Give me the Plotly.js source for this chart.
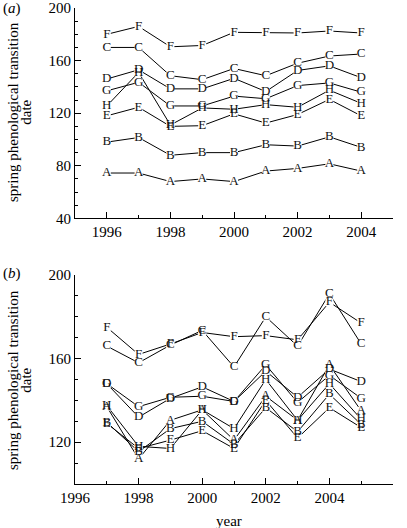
<!DOCTYPE html>
<html>
<head>
<meta charset="utf-8">
<script src="https://cdn.plot.ly/plotly-3.0.1.min.js"></script>
<style>html,body{margin:0;padding:0;background:#fff;}#chart{width:407px;height:528px;}</style>
</head>
<body>
<div id="chart"></div>
<script>
// Panel (a)
var yearsA = [1996, 1997, 1998, 1999, 2000, 2001, 2002, 2003, 2004];
var a_A = [74.5, 74.5, 68, 70, 68, 76, 78, 81.5, 76];
var a_B = [98, 101.5, 88, 90, 90, 96, 95, 102, 94];
var a_C = [170, 170, 148.5, 145.5, 154, 148.5, 158, 163.5, 165];
var a_D = [146, 153, 138.5, 138.5, 146.5, 136.5, 152.5, 156, 147];
var a_E = [118, 124.5, 110, 110.5, 119.5, 112.5, 119, 130.5, 118];
var a_F = [180, 186, 170.5, 171.5, 181.5, 181.5, 181, 182.5, 181];
var a_G = [137, 143.5, 125.5, 125.5, 133, 131, 141, 143, 136];
var a_H = [125.5, 151, 111, 124, 123, 126.5, 124.5, 137.5, 127.5];

// Panel (b)
var yearsB = [1997, 1998, 1999, 2000, 2001, 2002, 2003, 2004, 2005];
var b_A = [137, 112, 130.5, 135.5, 121, 142, 130.5, 157, 135];
var b_B = [129.5, 115.5, 126.5, 130, 119, 136.5, 125, 143, 128.5];
var b_C = [166, 158, 166.5, 173.5, 156, 180, 166, 191, 167];
var b_D = [148, 132, 141, 146.5, 139.5, 154, 141.5, 155, 149];
var b_E = [129, 117, 121, 125.5, 117, 140, 122, 136.5, 127];
var b_F = [175, 162, 167, 172.5, 170.5, 171, 169, 187, 177];
var b_G = [148, 137, 141.5, 142, 139.5, 157, 139, 152, 141];
var b_H = [137.5, 118, 117, 135.5, 126.5, 150, 130.5, 148, 131];

var seriesNames = ['A', 'B', 'C', 'D', 'E', 'F', 'G', 'H'];
var panelA = [a_A, a_B, a_C, a_D, a_E, a_F, a_G, a_H];
var panelB = [b_A, b_B, b_C, b_D, b_E, b_F, b_G, b_H];

var FONT = 'Liberation Serif';
var traces = [];
function addPanel(xs, list, xa, ya) {
  list.forEach(function (ys, i) {
    traces.push({x: xs, y: ys, xaxis: xa, yaxis: ya, type: 'scatter', mode: 'lines',
      line: {color: 'black', width: 1}, hoverinfo: 'skip', showlegend: false});
  });
  list.forEach(function (ys, i) {
    traces.push({x: xs, y: ys, xaxis: xa, yaxis: ya, type: 'scatter', mode: 'markers',
      marker: {symbol: 'square', size: 8, color: 'white', line: {width: 0}}, hoverinfo: 'skip', showlegend: false});
  });
  list.forEach(function (ys, i) {
    traces.push({x: xs, y: ys, xaxis: xa, yaxis: ya, type: 'scatter', mode: 'text',
      text: xs.map(function () { return seriesNames[i]; }), textposition: 'middle center',
      textfont: {family: FONT, size: 13, color: '#111'}, hoverinfo: 'skip', showlegend: false});
  });
}
addPanel(yearsA, panelA, 'x', 'y');
addPanel(yearsB, panelB, 'x2', 'y2');

function xax(range, anchor) {
  return {range: range, anchor: anchor, tick0: 1996, dtick: 2, ticks: 'inside', ticklen: 6, tickwidth: 1,
    tickcolor: 'black', showline: true, linecolor: 'black', linewidth: 1, showgrid: false, zeroline: false,
    tickfont: {family: FONT, size: 15, color: 'black'},
    minor: {dtick: 1, ticks: 'inside', ticklen: 3, tickcolor: 'black', showgrid: false}};
}
function yax(range, domain, anchor) {
  return {range: range, domain: domain, anchor: anchor, tick0: 0, dtick: 40, ticks: 'inside', ticklen: 6, tickwidth: 1,
    tickcolor: 'black', showline: true, linecolor: 'black', linewidth: 1, showgrid: false, zeroline: false,
    tickfont: {family: FONT, size: 15, color: 'black'},
    minor: {dtick: 10, ticks: 'inside', ticklen: 3, tickcolor: 'black', showgrid: false}};
}

var layout = {
  width: 407, height: 528,
  margin: {l: 75, r: 14, t: 8, b: 44},
  paper_bgcolor: 'white', plot_bgcolor: 'white',
  font: {family: FONT, color: 'black'},
  showlegend: false,
  xaxis: xax([1995, 2005], 'y'),
  yaxis: yax([40, 200], [0.558, 1], 'x'),
  xaxis2: xax([1996, 2006], 'y2'),
  yaxis2: yax([100, 200], [0, 0.439], 'x2'),
  annotations: [
    {text: 'spring phenological transition', xref: 'paper', yref: 'paper', x: -0.195, y: 0.7815,
      textangle: -90, showarrow: false, xanchor: 'center', yanchor: 'middle', font: {family: FONT, size: 15}},
    {text: 'date', xref: 'paper', yref: 'paper', x: -0.155, y: 0.7815,
      textangle: -90, showarrow: false, xanchor: 'center', yanchor: 'middle', font: {family: FONT, size: 15}},
    {text: 'spring phenological transition', xref: 'paper', yref: 'paper', x: -0.195, y: 0.2185,
      textangle: -90, showarrow: false, xanchor: 'center', yanchor: 'middle', font: {family: FONT, size: 15}},
    {text: 'date', xref: 'paper', yref: 'paper', x: -0.155, y: 0.2185,
      textangle: -90, showarrow: false, xanchor: 'center', yanchor: 'middle', font: {family: FONT, size: 15}},
    {text: '(<i>a</i>)', xref: 'paper', yref: 'paper', x: -0.233, y: 1.0,
      showarrow: false, xanchor: 'left', yanchor: 'middle', font: {family: FONT, size: 15}},
    {text: '(<i>b</i>)', xref: 'paper', yref: 'paper', x: -0.233, y: 0.443,
      showarrow: false, xanchor: 'left', yanchor: 'middle', font: {family: FONT, size: 15}},
    {text: 'year', xref: 'paper', yref: 'paper', x: 0.484, y: -0.0777,
      showarrow: false, xanchor: 'center', yanchor: 'middle', font: {family: FONT, size: 15}}
  ]
};

Plotly.newPlot('chart', traces, layout, {displayModeBar: false, staticPlot: true});
</script>
</body>
</html>
